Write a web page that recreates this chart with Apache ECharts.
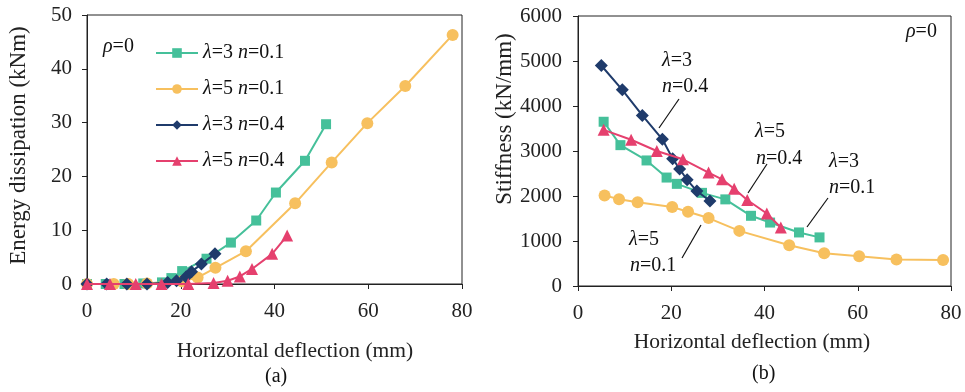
<!DOCTYPE html>
<html><head><meta charset="utf-8">
<script src="https://cdn.jsdelivr.net/npm/echarts@6/dist/echarts.min.js"></script>
<style>html,body{margin:0;padding:0;background:#fff}#c{width:965px;height:392px}</style>
</head><body><div id="c"></div>
<script>
// ---- Data (x: horizontal deflection mm, y: value) ----
const seriesNames = ['λ=3 n=0.1', 'λ=5 n=0.1', 'λ=3 n=0.4', 'λ=5 n=0.4'];
const xTicks = [0, 20, 40, 60, 80];
// (a) Energy dissipation (kNm)
const energy_l3n01 = [[0,0],[4,0],[8,0],[12,0.1],[16,0.3],[18,1.1],[20.3,2.4],[25.5,4.7],[30.7,7.7],[36.1,11.8],[40.3,17.0],[46.5,22.9],[51.0,29.7]];
const energy_l5n01 = [[0,0],[5.7,0],[8.8,0],[12.8,0.1],[20.2,0.5],[23.6,1.2],[27.4,3.0],[33.9,6.1],[44.4,15.0],[52.2,22.6],[59.8,29.9],[67.9,36.8],[78.0,46.3]];
const energy_l3n04 = [[0,0],[4.2,0],[8.5,0],[12.8,0],[17.2,0.3],[19.1,0.6],[21.1,1.3],[22.3,2.3],[24.4,3.7],[27.3,5.6]];
const energy_l5n04 = [[0,0],[4.9,0],[10.4,0],[15.9,0],[21.6,0],[27.0,0.2],[30.0,0.6],[32.6,1.4],[35.2,2.8],[39.5,5.6],[42.7,9.0]];
// (b) Stiffness (kN/mm)
const stiff_l3n01 = [[5.5,3650],[9.1,3130],[14.7,2790],[19.0,2410],[21.2,2270],[26.6,2070],[31.6,1925],[37.1,1560],[41.2,1410],[47.4,1190],[51.8,1080]];
const stiff_l5n01 = [[5.7,2010],[8.8,1930],[12.8,1860],[20.2,1755],[23.6,1650],[28.0,1510],[34.6,1225],[45.3,905],[52.8,726],[60.3,660],[68.3,590],[78.3,580]];
const stiff_l3n04 = [[5.0,4900],[9.5,4360],[13.8,3790],[18.1,3260],[20.3,2830],[21.8,2600],[23.4,2360],[25.5,2110],[28.3,1890]];
const stiff_l5n04 = [[5.5,3470],[11.4,3250],[16.9,3000],[22.5,2815],[28.0,2520],[30.9,2370],[33.5,2160],[36.3,1910],[40.5,1610],[43.5,1300]];

// ---- Styles ----
const FONT = 'Liberation Serif';
const colors = ['#45C09A', '#F7C05E', '#1F3B6B', '#E5406E'];
const symbols = ['rect', 'circle', 'diamond', 'triangle'];
const symbolSizes = [10, 12, 13, 12];
const italic = { fontStyle: 'italic', fontFamily: FONT, fontSize: 20, color: '#111' };

function fmtName(n) { return n.replace('λ', '{i|λ}').replace('n=', '{i|n}='); }

function mkSeries(data, idx, axisIdx) {
  return {
    name: seriesNames[idx], type: 'line', data: data,
    xAxisIndex: axisIdx, yAxisIndex: axisIdx,
    symbol: symbols[idx], symbolSize: symbolSizes[idx], showSymbol: true,
    clip: false, animation: false,
    lineStyle: { color: colors[idx], width: 2 },
    itemStyle: { color: colors[idx] },
    z: 2 + idx
  };
}

function axisLabel(margin) {
  return { fontFamily: FONT, fontSize: 21, color: '#222', margin: margin, formatter: function (v) { return String(v); } };
}
function nameStyle(size, pad) {
  return { fontFamily: FONT, fontSize: size, color: '#222', padding: pad };
}
const axisLine = { show: true, lineStyle: { color: '#222', width: 1 } };
const axisTick = { show: true, inside: false, length: 5, lineStyle: { color: '#222' } };

function txt(left, top, text) {
  return {
    type: 'text', left: left, top: top,
    style: { text: text, fontFamily: FONT, fontSize: 20, fill: '#111', rich: { i: italic } }
  };
}
function ln(x1, y1, x2, y2) {
  return { type: 'line', shape: { x1, y1, x2, y2 }, style: { stroke: '#111', lineWidth: 1.2 } };
}

function build() {
  return {
    backgroundColor: '#fff',
    animation: false,
    textStyle: { fontFamily: FONT },
    grid: [
      { left: 87, top: 15, width: 375, height: 269, show: true, borderColor: '#222', borderWidth: 1 },
      { left: 578, top: 16, width: 373, height: 270, show: true, borderColor: '#222', borderWidth: 1 }
    ],
    xAxis: [
      { gridIndex: 0, type: 'value', min: 0, max: 80, interval: 20, axisLine, axisTick, splitLine: { show: false },
        name: 'Horizontal deflection (mm)', nameLocation: 'middle', nameGap: 56,
        nameTextStyle: nameStyle(21.5, [0, 0, 0, 41]), axisLabel: axisLabel(17) },
      { gridIndex: 1, type: 'value', min: 0, max: 80, interval: 20, axisLine, axisTick, splitLine: { show: false },
        name: 'Horizontal deflection (mm)', nameLocation: 'middle', nameGap: 45,
        nameTextStyle: nameStyle(21.5, [0, 25, 0, 0]), axisLabel: axisLabel(17) }
    ],
    yAxis: [
      { gridIndex: 0, type: 'value', min: 0, max: 50, interval: 10, axisLine, axisTick, splitLine: { show: false },
        name: 'Energy dissipation (kNm)', nameLocation: 'middle', nameGap: 57,
        nameTextStyle: nameStyle(23, [0, 0, 0, 8]), axisLabel: axisLabel(15) },
      { gridIndex: 1, type: 'value', min: 0, max: 6000, interval: 1000, axisLine, axisTick, splitLine: { show: false },
        name: 'Stiffness (kN/mm)', nameLocation: 'middle', nameGap: 61,
        nameTextStyle: nameStyle(23, [0, 0, 0, 64]), axisLabel: axisLabel(16) }
    ],
    legend: {
      show: true, orient: 'vertical', left: 150, top: 37,
      itemWidth: 42, itemHeight: 12, itemGap: 14,
      data: seriesNames,
      formatter: fmtName,
      textStyle: { fontFamily: FONT, fontSize: 20, color: '#111', lineHeight: 22, rich: { i: italic } }
    },
    series: [
      mkSeries(energy_l3n01, 0, 0), mkSeries(energy_l5n01, 1, 0),
      mkSeries(energy_l3n04, 2, 0), mkSeries(energy_l5n04, 3, 0),
      mkSeries(stiff_l3n01, 0, 1), mkSeries(stiff_l5n01, 1, 1),
      mkSeries(stiff_l3n04, 2, 1), mkSeries(stiff_l5n04, 3, 1)
    ],
    graphic: [
      txt(103, 37, '{i|ρ}=0'),
      txt(906, 22, '{i|ρ}=0'),
      txt(662, 51, '{i|λ}=3'), txt(662, 77, '{i|n}=0.4'), ln(679, 99, 659, 128),
      txt(755, 122, '{i|λ}=5'), txt(756, 149, '{i|n}=0.4'), ln(767, 164, 748, 193),
      txt(829, 152, '{i|λ}=3'), txt(829, 178, '{i|n}=0.1'), ln(828, 198, 807, 227),
      txt(629, 230, '{i|λ}=5'), txt(630, 256, '{i|n}=0.1'), ln(701, 225, 682, 258),
      txt(265, 367, '(a)'),
      txt(752, 364, '(b)')
    ]
  };
}

const chart = echarts.init(document.getElementById('c'));
chart.setOption(build());
if (document.fonts && document.fonts.ready) {
  document.fonts.ready.then(function () { chart.setOption(build(), true); });
}
</script></body></html>
